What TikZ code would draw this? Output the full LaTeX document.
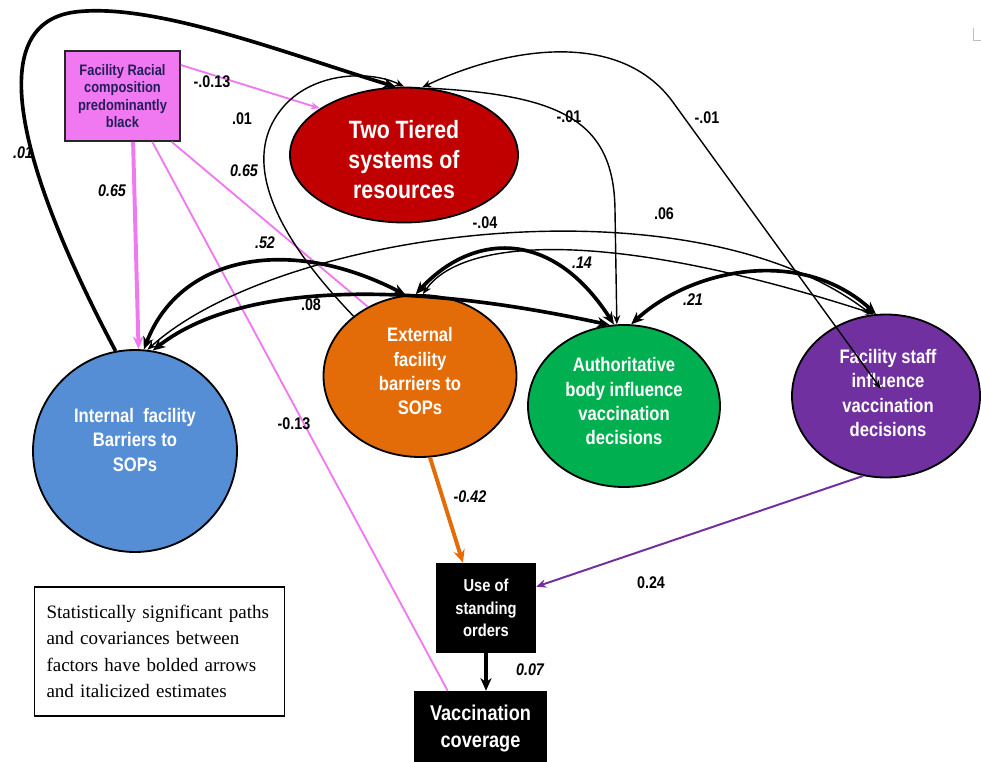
\documentclass[tikz,border=0pt]{standalone}
\usepackage{fontspec}
\setmainfont{Liberation Sans}
\newfontfamily\narrowsf[FakeStretch=0.85]{Liberation Sans}
\newfontfamily\legendserif{Liberation Serif}
\usetikzlibrary{shapes.geometric,arrows.meta,calc}
\newlength\pxu
\setlength\pxu{0.025cm}

\definecolor{tieredred}{RGB}{192,0,0}
\definecolor{internalblue}{RGB}{85,142,213}
\definecolor{externalorange}{RGB}{227,108,9}
\definecolor{authgreen}{RGB}{0,176,80}
\definecolor{staffpurple}{RGB}{112,48,160}
\definecolor{racialpink}{RGB}{240,120,240}
\definecolor{racialtext}{RGB}{35,30,90}

\tikzset{
  factor/.style={ellipse, draw=black, line width=1.3pt, inner sep=0pt},
  facttext/.style={text=white, align=center, inner sep=0pt,
    font=\narrowsf\bfseries\fontsize{13.9pt}{17.3pt}\selectfont},
  thickline/.style={line width=2.6pt},
  thinline/.style={line width=1pt},
  bigtip/.tip={Stealth[length=9pt,width=7.5pt]},
  smalltip/.tip={Stealth[length=6.5pt,width=5pt]},
  elabel/.style={inner sep=0pt, font=\narrowsf\bfseries\fontsize{12pt}{14pt}\selectfont},
  ilabel/.style={elabel, font=\narrowsf\bfseries\itshape\fontsize{12pt}{14pt}\selectfont},
  pinkthin/.style={draw=racialpink, line width=1.3pt},
  pinkthick/.style={draw=racialpink, line width=2.8pt},
  blackbox/.style={fill=black, text=white, align=center, inner sep=0pt},
}

\begin{document}
\begin{tikzpicture}[x=\pxu, y=-\pxu]
\useasboundingbox (0,0) rectangle (981,762);
\clip (0,0) rectangle (981,762);
\fill[white] (0,0) rectangle (981,762);

% small corner mark
\draw[black!25, line width=0.6pt] (973,28) -- (973,40) -- (981,40);

% ---------- nodes ----------
\node[draw=black!85, line width=1.2pt, fill=racialpink, minimum width=115\pxu,
      minimum height=90\pxu, inner sep=0pt, align=center, text=racialtext,
      font=\narrowsf\bfseries\fontsize{10.8pt}{12.4pt}\selectfont]
  (racial) at (122.5,96) {Facility Racial\\composition\\predominantly\\black};

\node[factor, fill=tieredred, minimum width=228\pxu, minimum height=135\pxu] (two) at (404,155) {};
\node[facttext, font=\narrowsf\bfseries\fontsize{17.8pt}{21.3pt}\selectfont]
  (two-text) at (404,160) {Two Tiered\\systems of\\resources};

\node[factor, fill=internalblue, minimum width=204\pxu, minimum height=202\pxu] (internal) at (135,451) {};
\node[facttext] (internal-text) at (135,440) {Internal~ facility\\Barriers to\\SOPs};

\node[factor, fill=externalorange, minimum width=193\pxu, minimum height=162\pxu] (external) at (420,376) {};
\node[facttext] (external-text) at (420,371.5) {External\\facility\\barriers to\\SOPs};

\node[factor, fill=authgreen, minimum width=192\pxu, minimum height=162\pxu] (auth) at (624,406) {};
\node[facttext] (auth-text) at (624,401.5) {Authoritative\\body influence\\vaccination\\decisions};

\node[factor, fill=staffpurple, minimum width=188\pxu, minimum height=163\pxu] (staff) at (886,396) {};
\node[facttext] (staff-text) at (888,393) {Facility staff\\influence\\vaccination\\decisions};

\node[blackbox, minimum width=100\pxu, minimum height=90\pxu,
      font=\narrowsf\bfseries\fontsize{12.3pt}{16pt}\selectfont]
  (use) at (486,608) {Use of\\standing\\orders};

\node[blackbox, minimum width=133\pxu, minimum height=75\pxu,
      font=\narrowsf\bfseries\fontsize{15.2pt}{19.2pt}\selectfont]
  (vacc) at (480.5,728.5) {Vaccination\\coverage};

\node[draw=black, line width=0.8pt, minimum width=250\pxu, minimum height=129\pxu,
      text width=226\pxu, inner xsep=12\pxu, inner ysep=0pt, align=left,
      font=\legendserif\fontsize{13.5pt}{18.7pt}\selectfont]
  (legend) at (159.5,651.5) {Statistically significant paths\\and covariances between\\factors have bolded arrows\\and italicized estimates};

% ---------- paths from the racial composition box ----------
\draw[pinkthin, -{smalltip}] (racial.28) -- (two.151);
\draw[pinkthick, -{bigtip}] (racial.-77) -- (internal.88);
\draw[pinkthin] (racial.-43) -- (external.127);
\draw[pinkthin] (racial.-57) -- (vacc.131);

% ---------- paths into and out of the two tiered system ----------
\draw[thickline, -{bigtip}] (internal.101)
  .. controls (30,190) and (-25,25) .. (75,12)
  .. controls (155,2) and (290,55) .. (two.97);
\draw[thinline, -{smalltip}] (external.138)
  .. controls (280,240) and (235,160) .. (285,105)
  .. controls (315,72) and (370,70) .. (two.90);
\draw[thinline, -{smalltip}] (two.70)
  .. controls (560,95) and (614,120) .. (615,210) -- (auth.95);
\draw[thinline, {smalltip}-{smalltip}, shorten >=9\pxu] (two.75)
  .. controls (500,50) and (620,25) .. (675,105) -- (staff.center);

% ---------- covariances among the factors ----------
\draw[thickline, {bigtip}-{bigtip}] (internal.85)
  .. controls (180,255) and (290,235) .. (external.100);
\draw[thickline, {bigtip}-{bigtip}] (internal.80)
  .. controls (230,290) and (380,275) .. (auth.100);
\draw[thickline, {bigtip}-{bigtip}] (external.93)
  .. controls (470,235) and (550,225) .. (auth.97);
\draw[thickline, {bigtip}-{bigtip}] (auth.85)
  .. controls (690,270) and (800,245) .. (staff.97);
\draw[thinline, {smalltip}-{smalltip}] (internal.83)
  .. controls (280,230) and (690,175) .. (staff.100);
\draw[thinline, {smalltip}-{smalltip}] (external.88)
  .. controls (460,240) and (600,225) .. (staff.98);

% ---------- paths to the outcomes ----------
\draw[line width=2.8pt, externalorange, -{Stealth[length=9pt,width=8pt]}] (external.-83) -- (use.117);
\draw[line width=1.4pt, staffpurple, -{Stealth[length=7pt,width=6pt]}] (staff.-106) -- (use.23);
\draw[line width=2.8pt, -{Stealth[length=9pt,width=8pt]}] (use.south) -- (use.south |- vacc.north);

% ---------- estimates ----------
\node[elabel] (e-racial-two) at (212,82) {-.0.13};
\node[elabel] (e-ext-two) at (242,119) {.01};
\node[ilabel] (e-racial-ext) at (244,171) {0.65};
\node[ilabel] (e-int-two) at (23,153) {.01};
\node[ilabel] (e-racial-int) at (112,191) {0.65};
\node[ilabel] (e-int-ext) at (265,243) {.52};
\node[elabel] (e-ext-staff) at (485,223) {-.04};
\node[elabel] (e-int-staff) at (664,214) {.06};
\node[ilabel] (e-ext-auth) at (582,263) {.14};
\node[ilabel] (e-auth-staff) at (693,300) {.21};
\node[elabel] (e-two-auth) at (569,117) {-.01};
\node[elabel] (e-two-staff) at (707,118) {-.01};
\node[elabel] (e-int-auth) at (311,305) {.08};
\node[elabel] (e-racial-vacc) at (294,424) {-0.13};
\node[ilabel] (e-ext-use) at (470,497) {-0.42};
\node[elabel] (e-staff-use) at (651,583) {0.24};
\node[ilabel] (e-use-vacc) at (530,670) {0.07};
\end{tikzpicture}
\end{document}
